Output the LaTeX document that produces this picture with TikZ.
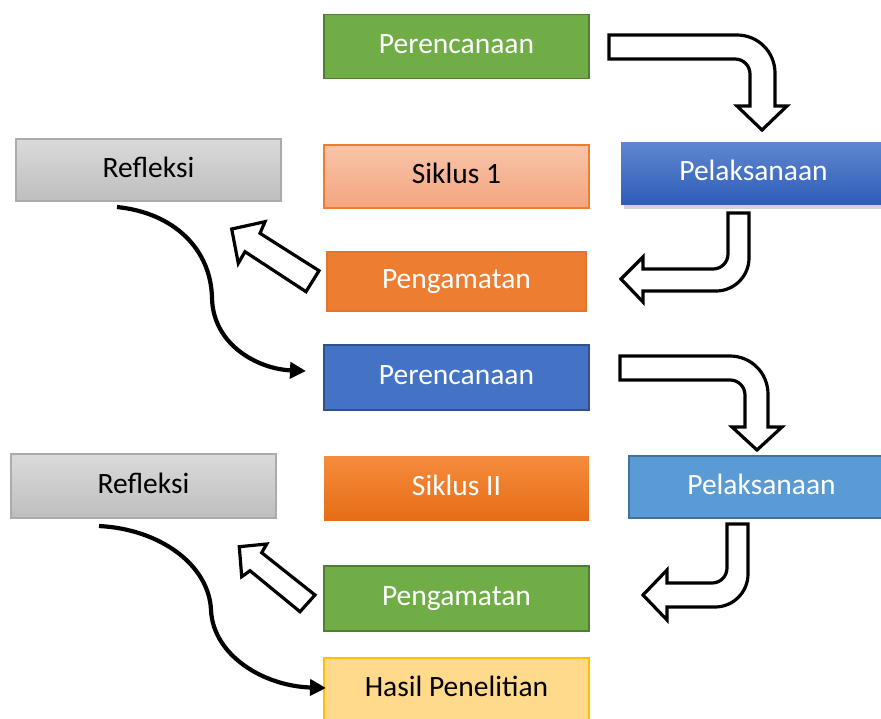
\documentclass[tikz,border=0pt]{standalone}
\usepackage{fontspec}
\setmainfont{Carlito}
\usetikzlibrary{arrows.meta,shadows}
\definecolor{gfill}{HTML}{70AD47}
\definecolor{gline}{HTML}{507E32}
\definecolor{bfill}{HTML}{4472C4}
\definecolor{bline}{HTML}{2F528F}
\definecolor{lbfill}{HTML}{5B9BD5}
\definecolor{lbline}{HTML}{41719C}
\definecolor{ofill}{HTML}{ED7D31}
\definecolor{oline}{HTML}{E4742A}
\definecolor{s1top}{HTML}{F8C4AA}
\definecolor{s1bot}{HTML}{F4A57F}
\definecolor{s2top}{HTML}{F58C3C}
\definecolor{s2bot}{HTML}{E66C17}
\definecolor{p1top}{HTML}{5F87CF}
\definecolor{p1bot}{HTML}{2F5DB8}
\definecolor{rtop}{HTML}{DADADA}
\definecolor{rbot}{HTML}{BEBEBE}
\definecolor{rline}{HTML}{ABABAB}
\definecolor{hfill}{HTML}{FFD98C}
\definecolor{hline}{HTML}{FFC000}
\tikzset{
  box/.style={rectangle, minimum width=265pt, minimum height=64pt, inner sep=0pt,
    text height=20pt, text depth=6pt,
    font=\fontsize{29.5}{34}\selectfont, line width=1.4pt},
  greenbox/.style={box, fill=gfill, draw=gline, text=white},
  bluebox/.style={box, fill=bfill, draw=bline, text=white},
  lbluebox/.style={box, fill=lbfill, draw=lbline, text=white},
  orangebox/.style={box, fill=ofill, draw=oline, text=white},
  grey/.style={box, top color=rtop, bottom color=rbot, draw=rline, text=black},
  blockarrow/.style={draw=black, fill=white, line width=3.2pt, line join=miter},
  curvearrow/.style={draw=black, line width=4.2pt, -{Triangle[length=16pt,width=16pt]}}
}
\begin{document}
\begin{tikzpicture}[x=1pt,y=-1pt]
\useasboundingbox (0,0) rectangle (881,718);
\clip (0,0) rectangle (881,718);
% boxes
\node[greenbox] (per1) at (456.5,46.5) {Perencanaan};
\node[box, top color=s1top, bottom color=s1bot, draw=ofill, text=black, minimum height=63pt] (sik1) at (456.5,176.5) {Siklus 1};
\node[box, top color=p1top, bottom color=p1bot, text=white, minimum height=62pt, drop shadow={shadow xshift=3pt, shadow yshift=-5pt, opacity=0.35}] (pel1) at (753.5,173) {Pelaksanaan};
\node[grey, minimum height=62pt] (ref1) at (148.5,170) {Refleksi};
\node[orangebox, minimum width=259pt, minimum height=59pt] (pen1) at (456.5,281.5) {Pengamatan};
\node[bluebox, minimum height=65pt] (per2) at (456.5,377.5) {Perencanaan};
\node[box, top color=s2top, bottom color=s2bot, text=white] (sik2) at (456.5,488) {Siklus II};
\node[lbluebox, minimum height=62pt] (pel2) at (761.5,487) {Pelaksanaan};
\node[grey] (ref2) at (143.5,486) {Refleksi};
\node[greenbox, minimum height=65pt] (pen2) at (456.5,598.5) {Pengamatan};
\node[box, fill=hfill, draw=hline, text=black, minimum height=62pt] (has) at (456.5,689) {Hasil Penelitian};
% bent block arrows
\draw[blockarrow] (609,35) -- (737,35) .. controls (758,35) and (775,52) .. (775,73)
  -- (775,106) -- (787,106) -- (762,130) -- (737,106) -- (750,106) -- (750,74)
  .. controls (750,65.7) and (743.3,59) .. (735,59) -- (609,59) -- cycle;
\draw[blockarrow] (728,213) -- (749,213) -- (749,258) .. controls (749,276.2) and (734.2,291) .. (716,291)
  -- (643,291) -- (643,302) -- (621,279) -- (643,257) -- (643,269) -- (713,269)
  .. controls (721.3,269) and (728,262.3) .. (728,254) -- cycle;
\draw[blockarrow] (620,356) -- (730,356) .. controls (751,356) and (768,373) .. (768,394)
  -- (768,427) -- (782,427) -- (757,450) -- (732,427) -- (745,427) -- (745,395)
  .. controls (745,386.7) and (738.3,380) .. (730,380) -- (620,380) -- cycle;
\draw[blockarrow] (727,524) -- (748,524) -- (748,574) .. controls (748,592.2) and (733.2,607) .. (715,607)
  -- (667,607) -- (667,620) -- (643,595) -- (667,570) -- (667,583) -- (712,583)
  .. controls (720.3,583) and (727,576.3) .. (727,568) -- cycle;
% diagonal block arrows
\draw[blockarrow] (231.7,229) -- (265,221.7) -- (260,233.3) -- (319,270.7) -- (306,291.7)
  -- (245,251.7) -- (238.3,263.3) -- cycle;
\draw[blockarrow] (239.3,546.7) -- (266.7,544) -- (261.7,552.7) -- (315,595) -- (300,611.7)
  -- (250,570.7) -- (241.7,576.7) -- cycle;
% curved arrows
\coordinate (c1s) at (117,207);
\coordinate (c1e) at (306,371);
\coordinate (c2s) at (99,526);
\coordinate (c2e) at (326,688);
\draw[curvearrow] (c1s) .. controls (175,213) and (211,250) .. (212,298)
  .. controls (213,345) and (258,369) .. (c1e);
\draw[curvearrow] (c2s) .. controls (160,529) and (209,565) .. (211,610)
  .. controls (213,655) and (263,686) .. (c2e);
\end{tikzpicture}
\end{document}
